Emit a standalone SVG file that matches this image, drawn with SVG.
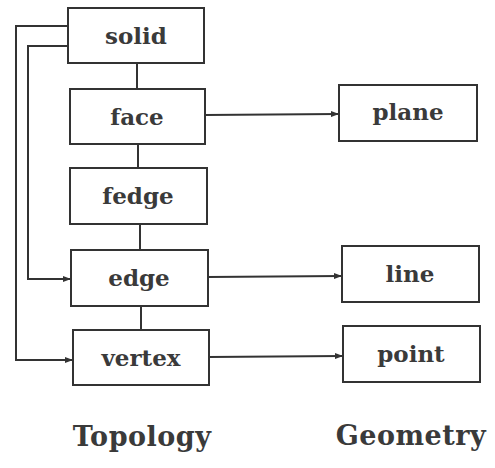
<svg xmlns="http://www.w3.org/2000/svg" width="495" height="468" viewBox="0 0 495 468">
  <style>
    .box { fill: #fff; stroke: #333; stroke-width: 2; }
    .lbl { font-family: "DejaVu Serif", "Liberation Serif", serif; font-size: 23px; font-weight: bold; fill: #3a3a3a; text-anchor: middle; }
    .ttl { font-family: "DejaVu Serif", "Liberation Serif", serif; font-size: 27px; font-weight: bold; fill: #3a3a3a; text-anchor: middle; letter-spacing: 0.5px; }
    .con { fill: none; stroke: #333; stroke-width: 2; }
  </style>
  <defs>
    <marker id="arr" markerWidth="8" markerHeight="6" refX="7" refY="3" orient="auto" markerUnits="userSpaceOnUse">
      <path d="M0,0 L8,3 L0,6 Z" fill="#333"/>
    </marker>
  </defs>
  <rect width="495" height="468" fill="#fff"/>

  <g id="connectors">
    <line class="con" x1="137" y1="63" x2="137" y2="88"/>
    <line class="con" x1="138" y1="144" x2="138" y2="168"/>
    <line class="con" x1="140" y1="224" x2="140" y2="250"/>
    <line class="con" x1="141" y1="306" x2="141" y2="330"/>
    <polyline class="con" points="68,26 16,26 16,360 72,360" marker-end="url(#arr)"/>
    <polyline class="con" points="68,46 28,46 28,279 70,279" marker-end="url(#arr)"/>
    <line class="con" x1="205" y1="115" x2="338" y2="114" marker-end="url(#arr)"/>
    <line class="con" x1="208" y1="277" x2="341" y2="276" marker-end="url(#arr)"/>
    <line class="con" x1="209" y1="357" x2="342" y2="356" marker-end="url(#arr)"/>
  </g>

  <g id="solid"><rect class="box" x="68" y="8" width="136" height="55"/><text class="lbl" x="136" y="44">solid</text></g>
  <g id="face"><rect class="box" x="70" y="89" width="135" height="55"/><text class="lbl" x="137" y="125">face</text></g>
  <g id="fedge"><rect class="box" x="70" y="168" width="137" height="56"/><text class="lbl" x="138" y="204">fedge</text></g>
  <g id="edge"><rect class="box" x="71" y="250" width="137" height="56"/><text class="lbl" x="139" y="286">edge</text></g>
  <g id="vertex"><rect class="box" x="73" y="330" width="136" height="55"/><text class="lbl" x="141" y="366">vertex</text></g>

  <g id="plane"><rect class="box" x="339" y="85" width="138" height="56"/><text class="lbl" x="408" y="120">plane</text></g>
  <g id="line"><rect class="box" x="342" y="246" width="137" height="56"/><text class="lbl" x="410" y="282">line</text></g>
  <g id="point"><rect class="box" x="343" y="326" width="137" height="56"/><text class="lbl" x="411" y="362">point</text></g>

  <g id="titles">
    <text class="ttl" x="142" y="446">Topology</text>
    <text class="ttl" x="411" y="445">Geometry</text>
  </g>
</svg>
